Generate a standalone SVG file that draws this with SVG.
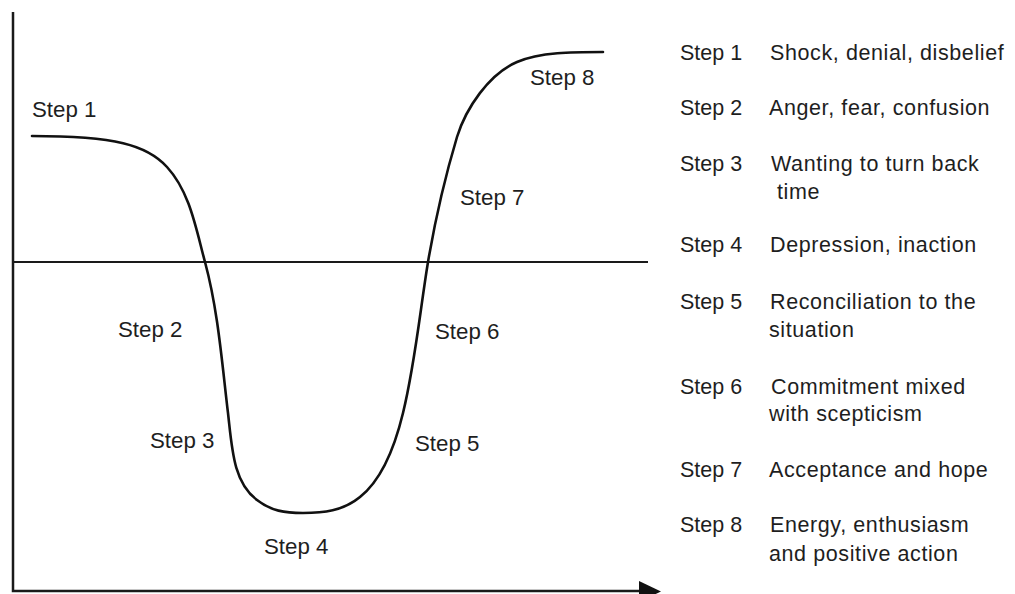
<svg xmlns="http://www.w3.org/2000/svg" width="1015" height="594" viewBox="0 0 1015 594">
<style>
text{font-family:"Liberation Sans",Arial,sans-serif;font-size:21.5px;fill:#1e1e1e}
.lbl{font-size:22.3px}
.d{letter-spacing:0.6px}
.ax{stroke:#1a1a1a;stroke-width:2.5;fill:none}
.base{stroke:#1a1a1a;stroke-width:1.8;fill:none}
.curve{stroke:#111;stroke-width:2.6;fill:none;stroke-linecap:round}
</style>
<rect width="1015" height="594" fill="#fff"/>
<g id="connectors">
<path class="ax" d="M13,12 V591 H642"/>
<polygon points="639,581 661,591.5 639,602" fill="#111"/>
<path class="base" d="M13,262 H648"/>
<path id="curve" class="curve" d="M32,136 C115,136 147,145 167,167 C190,192 196,229 205,262 C218,310 222,363 228,413 C232,448 233,482 257,500 C271,511 285,513 303,513 C323,513 343,511 360,497 C384,478 396,442 403,413 C415,364 420,311 428,262 C435,221 445,177 457,137 C466,108 489,74 517,62 C540,52 573,52 603,52"/>
</g>
<g id="curve-labels">
<text class="lbl" x="32" y="117">Step 1</text>
<text class="lbl" x="118" y="337">Step 2</text>
<text class="lbl" x="150" y="448">Step 3</text>
<text class="lbl" x="264" y="554">Step 4</text>
<text class="lbl" x="415" y="451">Step 5</text>
<text class="lbl" x="435" y="339">Step 6</text>
<text class="lbl" x="460" y="205">Step 7</text>
<text class="lbl" x="530" y="85">Step 8</text>
</g>
<g id="legend">
<g id="legend-1"><text x="680" y="60">Step 1</text><text class="d" x="770" y="60">Shock, denial, disbelief</text></g>
<g id="legend-2"><text x="680" y="115">Step 2</text><text class="d" x="769" y="115">Anger, fear, confusion</text></g>
<g id="legend-3"><text x="680" y="171">Step 3</text><text class="d" x="771" y="171">Wanting to turn back</text><text class="d" x="777" y="199">time</text></g>
<g id="legend-4"><text x="680" y="252">Step 4</text><text class="d" x="770" y="252">Depression, inaction</text></g>
<g id="legend-5"><text x="680" y="309">Step 5</text><text class="d" x="770" y="309">Reconciliation to the</text><text class="d" x="769" y="337">situation</text></g>
<g id="legend-6"><text x="680" y="394">Step 6</text><text class="d" x="771" y="394">Commitment mixed</text><text class="d" x="769" y="421">with scepticism</text></g>
<g id="legend-7"><text x="680" y="477">Step 7</text><text class="d" x="769" y="477">Acceptance and hope</text></g>
<g id="legend-8"><text x="680" y="532">Step 8</text><text class="d" x="770" y="532">Energy, enthusiasm</text><text class="d" x="769" y="561">and positive action</text></g>
</g>
</svg>
